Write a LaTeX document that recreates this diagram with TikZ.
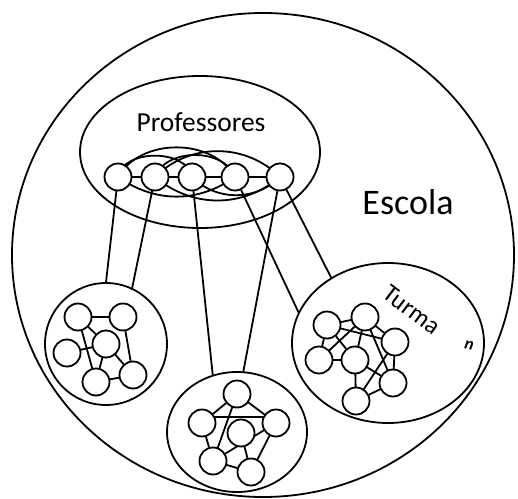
\documentclass[tikz,border=0pt]{standalone}
\usepackage{fontspec}
\setmainfont{Carlito}
\usetikzlibrary{shapes.geometric}
\pgfdeclarelayer{links}
\pgfsetlayers{links,main}
\begin{document}
\begin{tikzpicture}[x=1pt,y=1pt,
  line width=1.8pt, line cap=round,
  region/.style={draw, ellipse, inner sep=0pt},
  person/.style={draw, circle, fill=white, minimum size=27pt, inner sep=0pt},
  link/.style={line width=1.8pt, line cap=round},
  label text/.style={font=\fontsize{#1}{#1}\selectfont, inner sep=0pt}
]
\useasboundingbox (0,0) rectangle (518,498);

% school and the teachers' group
\node[region, minimum width=502pt, minimum height=484pt] (escola) at (263,243) {};
\node[region, minimum width=240pt, minimum height=152pt] (prof) at (200,346) {};
\node[label text=27.5, anchor=base] (proftxt) at (201,366) {Professores};
\node[label text=36, anchor=base] (escolatxt) at (408,283) {Escola};

% three classes
\node[region, minimum width=122pt, minimum height=122pt] (tA) at (106,154) {};
\node[region, minimum width=140pt, minimum height=120pt] (tB) at (237,66) {};
\node[region, minimum width=192pt, minimum height=160pt] (tC) at (388,155) {};
\node[label text=25, rotate=-37] (turmatxt) at (412,188) {Turma};
\node[label text=17, rotate=-12] (ntxt) at (469,153) {\bfseries\itshape n};

% teachers
\node[person] (p1) at (118,321) {};
\node[person] (p2) at (155,321) {};
\node[person] (p3) at (192,321) {};
\node[person] (p4) at (235,321) {};
\node[person] (p5) at (280,321) {};

% class A
\node[person] (a1) at (78,181) {};
\node[person] (a2) at (123,181) {};
\node[person] (a3) at (106,154) {};
\node[person] (a4) at (67,145) {};
\node[person] (a5) at (96,116) {};
\node[person] (a6) at (133,123) {};

% class B
\node[person] (m1) at (237,104) {};
\node[person] (m2) at (202,75) {};
\node[person] (m3) at (276,75) {};
\node[person] (m4) at (241,65) {};
\node[person] (m5) at (213,37) {};
\node[person] (m6) at (251,26) {};

% class C
\node[person] (r1) at (327,173) {};
\node[person] (r2) at (365,181) {};
\node[person] (r3) at (395,156) {};
\node[person] (r4) at (319,138) {};
\node[person] (r5) at (355,138) {};
\node[person] (r6) at (393,115) {};
\node[person] (r7) at (356,97) {};

\begin{pgfonlayer}{links}
\begin{scope}[link]
  % links between teachers
  \draw (p1.center) to[bend left=80] (p3.center);
  \draw (p1.center) to[bend left=60] (p4.center);
  \draw (p2.center) to[bend left=70] (p4.center);
  \draw (p2.center) to[bend left=45] (p5.center);
  \draw (p1.center) to[bend right=35] (p4.center);
  \draw (p2.center) to[bend right=40] (p5.center);
  \draw (p3.center) to[bend right=45] (p5.center);
  \draw (p1) -- (p2);
  \draw (p2) -- (p3);
  \draw (p3) -- (p4);
  \draw (p4) -- (p5);

  % teachers to classes
  \draw (p1) -- (tA.90);
  \draw (p2) -- (tA.65);
  \draw (p3) -- (tB.113);
  \draw (p5) -- (tB.84);
  \draw (p4) -- (tC.161);
  \draw (p5) -- (tC.131);

  % class A
  \draw (a1) -- (a2);
  \draw (a1) -- (a3);
  \draw (a1) -- (a5);
  \draw (a2) -- (a6);
  \draw (a3) -- (a6);
  \draw (a3) -- (a5);
  \draw (a4) -- (a3);
  \draw (a5) -- (a6);

  % class B
  \draw (m1) -- (m2);
  \draw (m1) -- (m3);
  \draw (m2.25) -- (m3.155);
  \draw (m2) -- (m5);
  \draw (m3) -- (m6);
  \draw (m5) -- (m6);
  \draw (m1) -- (m5);
  \draw (m3) -- (m5);
  \draw (m4) -- (m6);

  % class C
  \draw (r1) -- (r2);
  \draw (r2) -- (r3);
  \draw (r1) -- (r4);
  \draw (r4) -- (r5);
  \draw (r5) -- (r7);
  \draw (r6) -- (r7);
  \draw (r3) -- (r6);
  \draw (r1) -- (r3);
  \draw (r2) -- (r5);
  \draw (r2) -- (r6);
  \draw (r1) -- (r5);
  \draw (r4) -- (r2);
  \draw (r3) -- (r7);
  \draw (r5) -- (r6);
\end{scope}
\end{pgfonlayer}
\end{tikzpicture}
\end{document}
